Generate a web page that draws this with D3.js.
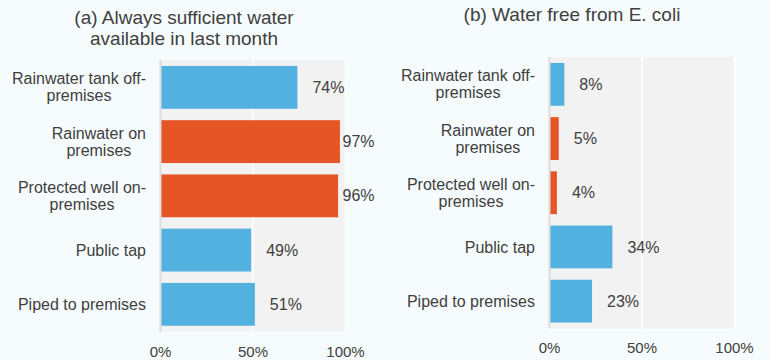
<!DOCTYPE html>
<html>
<head>
<meta charset="utf-8">
<script src="https://cdn.jsdelivr.net/npm/d3@7"></script>
<style>
  html, body { margin: 0; padding: 0; background: #f6fcfd; }
  svg { display: block; font-family: "Liberation Sans", Arial, sans-serif; }
</style>
</head>
<body>
<svg id="chart" width="769" height="360"></svg>
<script>
// Water source categories, top to bottom
const categories = [
  "Rainwater tank off-\npremises",
  "Rainwater on\npremises",
  "Protected well on-\npremises",
  "Public tap",
  "Piped to premises"
];
// Whether the source is on the premises (drawn in orange)
const onPremises = [false, true, true, false, false];

// (a) Always sufficient water available in last month, %
const sufficientWater = [74, 97, 96, 49, 51];
// (b) Water free from E. coli, %
const freeFromEcoli = [8, 5, 4, 34, 23];

const xTicks = [0, 50, 100];
const tickLabels = ["0%", "50%", "100%"];

const panels = [
  { title: ["(a) Always sufficient water", "available in last month"], values: sufficientWater,
    titleX: 184, titleY: 23.5, x0: 160.5, x1: 345.5, y0: 60, y1: 331.7, labelRight: 146, tickY: 356.5 },
  { title: ["(b) Water free from E. coli"], values: freeFromEcoli,
    titleX: 572, titleY: 20.5, x0: 549.5, x1: 734.5, y0: 57, y1: 328.5, labelRight: 535, tickY: 353 }
];

const colBlue = "#52b1de";
const colOrange = "#e55526";
const textCol = "#404040";

const svg = d3.select("#chart");

panels.forEach(p => {
  const g = svg.append("g");
  const x = d3.scaleLinear().domain([0, 100]).range([p.x0, p.x1]);
  const y = d3.scaleBand().domain(categories).range([p.y0, p.y1])
    .paddingInner(0.21).paddingOuter(0.11);

  // panel background
  g.append("rect")
    .attr("x", x(0) - 1.5).attr("y", p.y0)
    .attr("width", x(100) - x(0) + 1.5).attr("height", p.y1 - p.y0)
    .attr("fill", "#f2f2f2");

  // vertical grid lines
  g.selectAll("line.grid").data(xTicks.slice(1)).join("line")
    .attr("class", "grid")
    .attr("x1", d => x(d)).attr("x2", d => x(d))
    .attr("y1", p.y0).attr("y2", p.y1)
    .attr("stroke", "#ffffff").attr("stroke-width", 1.5);

  // bars
  g.selectAll("rect.bar").data(p.values).join("rect")
    .attr("class", "bar")
    .attr("x", x(0))
    .attr("y", (d, i) => y(categories[i]))
    .attr("width", d => x(d) - x(0))
    .attr("height", y.bandwidth())
    .attr("fill", (d, i) => onPremises[i] ? colOrange : colBlue);

  // zero line
  g.append("line")
    .attr("x1", x(0)).attr("x2", x(0))
    .attr("y1", p.y0).attr("y2", p.y1)
    .attr("stroke", "#dedede").attr("stroke-width", 2);

  // value labels
  g.selectAll("text.val").data(p.values).join("text")
    .attr("class", "val")
    .attr("x", d => Math.min(x(d) + 15, x(100) - 3))
    .attr("y", (d, i) => y(categories[i]) + y.bandwidth() / 2)
    .attr("dy", "0.35em")
    .attr("font-size", 16)
    .attr("fill", textCol)
    .text(d => d + "%");

  // category labels (lines centred within a right-aligned block)
  const lh = 17;
  categories.forEach((c, i) => {
    const lines = c.split("\n");
    const cy = y(c) + y.bandwidth() / 2;
    const t = g.append("text")
      .attr("font-size", 16)
      .attr("fill", textCol)
      .attr("text-anchor", "middle");
    const spans = lines.map((ln, k) => t.append("tspan")
      .attr("y", cy + (k - (lines.length - 1) / 2) * lh)
      .attr("dy", "0.35em")
      .text(ln));
    const w = d3.max(spans, s => s.node().getComputedTextLength());
    spans.forEach(s => s.attr("x", p.labelRight - w / 2));
  });

  // x-axis tick labels
  g.selectAll("text.tick").data(xTicks).join("text")
    .attr("class", "tick")
    .attr("x", d => x(d))
    .attr("y", p.tickY)
    .attr("text-anchor", "middle")
    .attr("font-size", 15)
    .attr("fill", textCol)
    .text((d, i) => tickLabels[i]);

  // panel title
  const tt = g.append("text")
    .attr("text-anchor", "middle")
    .attr("font-size", 19)
    .attr("fill", textCol);
  p.title.forEach((ln, k) => tt.append("tspan")
    .attr("x", p.titleX)
    .attr("y", p.titleY + k * 21.5)
    .text(ln));
});
</script>
</body>
</html>
